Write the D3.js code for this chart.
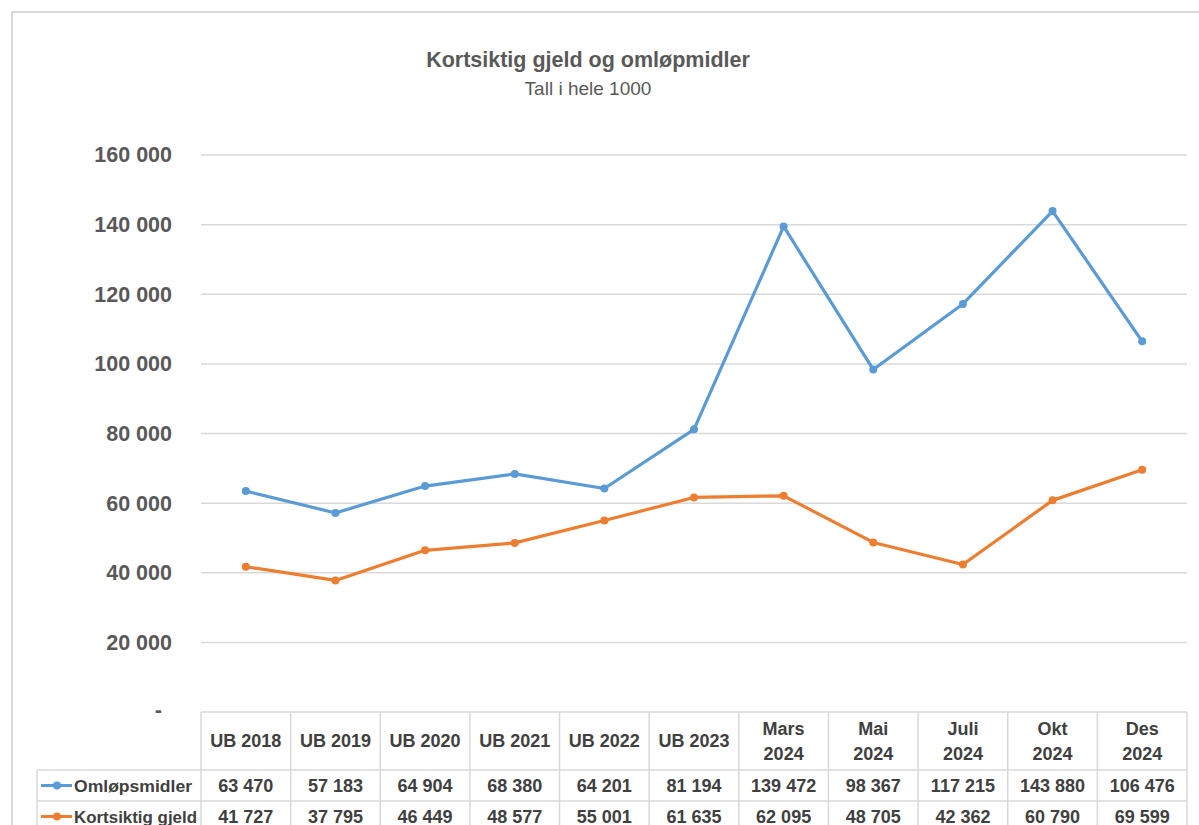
<!DOCTYPE html>
<html><head><meta charset="utf-8">
<script src="https://cdn.jsdelivr.net/npm/d3@7"></script>
<style>body{margin:0;background:#fff;} svg{display:block;font-family:"Liberation Sans",Arial,sans-serif;}</style>
</head><body>
<svg id="c" width="1199" height="825"></svg>
<script>
const categories = ["UB 2018","UB 2019","UB 2020","UB 2021","UB 2022","UB 2023","Mars 2024","Mai 2024","Juli 2024","Okt 2024","Des 2024"];
const omlop = [63470,57183,64904,68380,64201,81194,139472,98367,117215,143880,106476];
const gjeld = [41727,37795,46449,48577,55001,61635,62095,48705,42362,60790,69599];
const yTicks = [0,20000,40000,60000,80000,100000,120000,140000,160000];
const seriesNames = ["Omløpsmidler","Kortsiktig gjeld"];
const colors = ["#5B9BD5","#ED7D31"];

(function(){
const svg = d3.select("#c");
const W=1199,H=825;
const pL=201,pR=1187,pT=155,pB=712;
const fmt = v => v===0 ? "-" : d3.format(",")(v).replace(/,/g," ");

// outer border
svg.append("path").attr("d",`M12,${H} L12,12 L${W},12`).attr("fill","none").attr("stroke","#d9d9d9").attr("stroke-width",2);

// title
svg.append("text").attr("x",588).attr("y",67).attr("text-anchor","middle")
  .attr("font-size",21.5).attr("font-weight","bold").attr("fill","#595959").text("Kortsiktig gjeld og omløpmidler");
svg.append("text").attr("x",588).attr("y",95).attr("text-anchor","middle")
  .attr("font-size",19).attr("fill","#595959").text("Tall i hele 1000");

const x = d3.scaleBand().domain(categories).range([pL,pR]);
const y = d3.scaleLinear().domain([0,160000]).range([pB,pT]);

// gridlines
svg.append("g").selectAll("line").data(yTicks.filter(d=>d>0)).join("line")
  .attr("x1",pL).attr("x2",pR).attr("y1",d=>y(d)).attr("y2",d=>y(d))
  .attr("stroke","#d9d9d9").attr("stroke-width",1.5);

// y axis labels
const yAxis = d3.axisLeft(y).tickValues(yTicks).tickSize(0).tickPadding(0).tickFormat(fmt);
const ga = svg.append("g").attr("transform",`translate(172,0)`).call(yAxis);
ga.select(".domain").remove();
ga.selectAll("text").attr("font-size",21.5).attr("font-weight","bold").attr("fill","#595959")
  .attr("font-family","Liberation Sans, Arial, sans-serif");
ga.selectAll(".tick").filter(d=>d===0).select("text").attr("x",-10).attr("dy","0.2em");

// lines
const cx = d => x(d)+x.bandwidth()/2;
[omlop,gjeld].forEach((vals,i)=>{
  const line = d3.line().x((d,j)=>cx(categories[j])).y(d=>y(d));
  svg.append("path").datum(vals).attr("d",line).attr("fill","none")
    .attr("stroke",colors[i]).attr("stroke-width",3.2).attr("stroke-linejoin","round");
  svg.append("g").selectAll("circle").data(vals).join("circle")
    .attr("cx",(d,j)=>cx(categories[j])).attr("cy",d=>y(d)).attr("r",4).attr("fill",colors[i]);
});

// data table
const rowTop = [712,770,801,832];
const tcol = "#d9d9d9";
const tg = svg.append("g");
tg.append("line").attr("x1",pL).attr("x2",pR).attr("y1",rowTop[0]).attr("y2",rowTop[0]).attr("stroke",tcol).attr("stroke-width",1.5);
[rowTop[1],rowTop[2]].forEach(yy=>tg.append("line").attr("x1",37).attr("x2",pR).attr("y1",yy).attr("y2",yy).attr("stroke",tcol).attr("stroke-width",1.5));
const bounds = categories.map(c=>x(c)).concat([pR]);
bounds.forEach(bx=>tg.append("line").attr("x1",bx).attr("x2",bx).attr("y1",rowTop[0]).attr("y2",H).attr("stroke",tcol).attr("stroke-width",1.5));
tg.append("line").attr("x1",37).attr("x2",37).attr("y1",rowTop[1]).attr("y2",H).attr("stroke",tcol).attr("stroke-width",1.5);

categories.forEach(c=>{
  const parts = c.startsWith("UB") ? [c] : c.split(" ");
  const t = tg.append("text").attr("x",cx(c)).attr("text-anchor","middle")
    .attr("font-size",18).attr("font-weight","bold").attr("fill","#404040");
  if(parts.length===1){
    t.append("tspan").attr("x",cx(c)).attr("y",747).text(parts[0]);
  } else {
    t.append("tspan").attr("x",cx(c)).attr("y",735).text(parts[0]);
    t.append("tspan").attr("x",cx(c)).attr("y",760).text(parts[1]);
  }
});
[omlop,gjeld].forEach((vals,i)=>{
  const yy = (rowTop[i+1]+rowTop[i+2])/2 + 6;
  const ly = yy-6;
  tg.append("line").attr("x1",41).attr("x2",72).attr("y1",ly).attr("y2",ly).attr("stroke",colors[i]).attr("stroke-width",3);
  tg.append("circle").attr("cx",57).attr("cy",ly).attr("r",4).attr("fill",colors[i]);
  tg.append("text").attr("x",74).attr("y",yy).attr("font-size",17).attr("font-weight","bold").attr("fill","#404040")
    .attr("textLength", i===0 ? 118 : 123).attr("lengthAdjust","spacingAndGlyphs").text(seriesNames[i]);
  vals.forEach((v,j)=>{
    tg.append("text").attr("x",cx(categories[j])).attr("y",yy).attr("text-anchor","middle")
      .attr("font-size",18).attr("font-weight","bold").attr("fill","#404040").text(fmt(v));
  });
});
})();
</script>
</body></html>
